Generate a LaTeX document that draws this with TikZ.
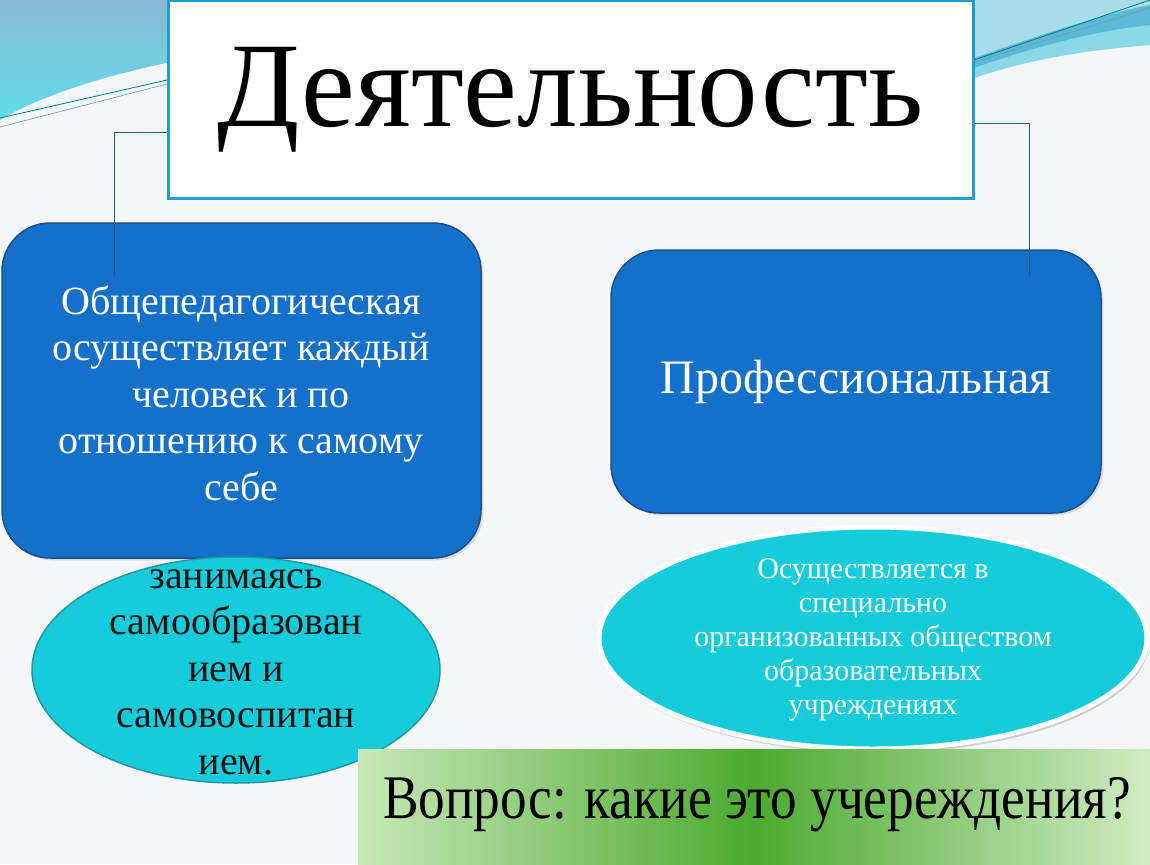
\documentclass[tikz,border=0pt]{standalone}
\usepackage{fontspec}
\setmainfont{Liberation Serif}
\usetikzlibrary{shapes.geometric,shadows}
\definecolor{pagebg}{HTML}{F4F6F7}
\definecolor{boxblue}{HTML}{1470C8}
\definecolor{boxedge}{HTML}{1D4F8C}
\definecolor{turq}{HTML}{16CCDA}
\definecolor{turqedge}{HTML}{1E9AA5}
\definecolor{titleedge}{HTML}{1C9ED2}
\definecolor{linkcol}{HTML}{1A5F7A}
\definecolor{leafdark}{HTML}{4CAA30}
\definecolor{leaflight}{HTML}{C8E8B8}
\definecolor{skytop}{HTML}{8AB9D4}
\definecolor{skylow}{HTML}{5FDDE8}
\definecolor{skypale}{HTML}{A8DCE8}
\definecolor{skyband}{HTML}{5AB8D8}
\definecolor{skystrip}{HTML}{8AD8E8}
\tikzset{
  bluebox/.style={draw=boxedge,line width=1.5pt,fill=boxblue,rounded corners=48pt,
    text=white,align=center,inner sep=0pt,drop shadow={opacity=.25}},
  leaf/.style={ellipse,fill=turq,align=center,inner sep=0pt},
  link/.style={draw=linkcol,line width=0.9pt}
}
\begin{document}
\begin{tikzpicture}[x=1pt,y=-1pt,every node/.style={font=\fontsize{40}{46.5}\selectfont}]
   \useasboundingbox (0,0) rectangle (1150,864);
   \fill[pagebg] (0,0) rectangle (1150,864);
   % swoosh top left
   \shade[top color=skytop,bottom color=skylow]
     (0,0) -- (400,0) -- (400,35) .. controls (250,40) and (80,72) .. (0,120) -- cycle;
   \draw[teal,line width=0.8pt] (0,118) -- (167,80);
   \draw[linkcol!60,line width=0.7pt] (0,127) -- (167,84);
   % swoosh top right
   \fill[skypale] (900,0) -- (1150,0) -- (1150,45) .. controls (1080,50) and (1020,62) .. (974,78) -- (900,80) -- cycle;
   \fill[skystrip] (974,68) .. controls (1040,45) and (1100,30) .. (1150,25) -- (1150,45)
     .. controls (1080,50) and (1020,62) .. (974,78) -- cycle;
   \fill[skyband] (974,58) .. controls (1040,35) and (1100,15) .. (1150,5) -- (1150,25)
     .. controls (1100,30) and (1040,45) .. (974,68) -- cycle;
   \draw[teal,line width=0.8pt] (974,60) -- (1150,0);
   \draw[linkcol!60,line width=0.7pt] (974,62) -- (1150,8);
   % title
   \node[draw=titleedge,line width=3pt,fill=white,minimum width=805pt,minimum height=197pt,
     font=\fontsize{121}{121}\selectfont] (title) at (570.5,99.5) {Деятельность};
   % main boxes
   \node[bluebox,minimum width=479pt,minimum height=335pt] (general) at (241.5,390.5) {};
   \node[white,align=center] (generaltxt) at (241,393) {Общепедагогическая\\осуществляет каждый\\человек и по\\отношению к самому\\себе};
   \node[bluebox,minimum width=490pt,minimum height=263pt,font=\fontsize{48}{50}\selectfont] (prof) at (856,381.5) {Профессиональная};
   % connectors
   \coordinate (gentop) at (114,277);
   \coordinate (proftop) at (1029,277);
   \draw[link] ([yshift=-32.5pt]title.west) -| (gentop);
   \draw[link] ([yshift=-23.5pt]title.east) -| (proftop);
   % ellipses
   \node[leaf,draw=turqedge,line width=1.5pt,minimum width=408pt,minimum height=226pt] (self) at (236,670) {};
   \node[align=center,text=black!85!teal] (selftxt) at (236,672) {занимаясь\\самообразован\\ием и\\самовоспитан\\ием.};
   \node[leaf,draw=white,line width=5pt,minimum width=548pt,minimum height=222pt,
     drop shadow={opacity=.35,shadow xshift=2pt,shadow yshift=-4pt}] (inst) at (873,638) {};
   \node[white,align=center,font=\fontsize{30}{34}\selectfont] (insttxt) at (873,640)
     {Осуществляется в\\специально\\организованных обществом\\образовательных\\учреждениях};
   % question
   \shade[left color=leaflight,right color=leaflight!85!white,middle color=leafdark] (358,749) rectangle (1150,864);
   \node[font=\fontsize{62}{62}\selectfont,xscale=0.86] (question) at (757,805) {Вопрос: какие это учереждения?};
  \end{tikzpicture}
\end{document}
